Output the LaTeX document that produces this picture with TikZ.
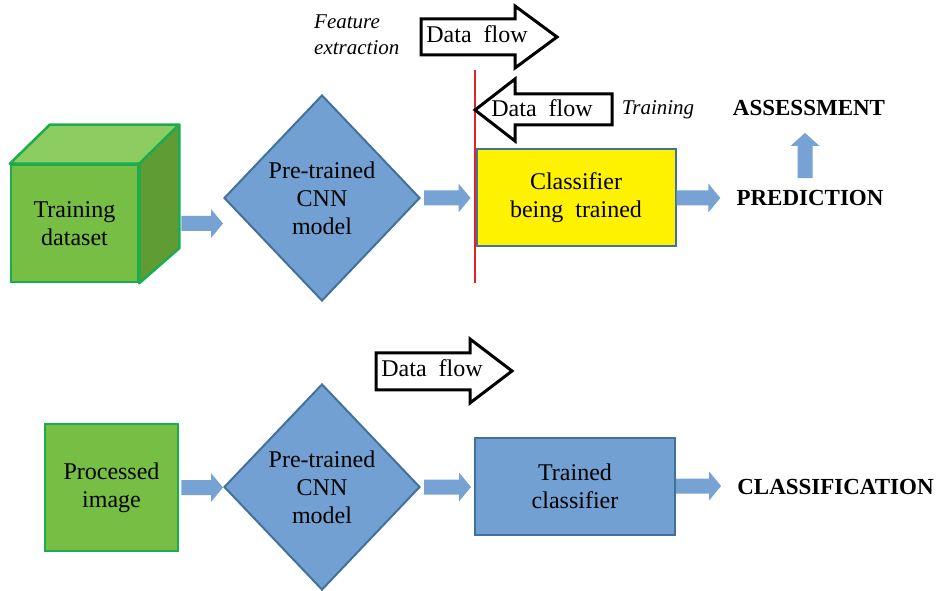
\documentclass[tikz,border=0pt]{standalone}
\usepackage{fontspec}
\setmainfont{Liberation Serif}
\usetikzlibrary{shapes}
\usetikzlibrary{calc}

\definecolor{boxgreen}{RGB}{118,190,68}
\definecolor{cubetop}{RGB}{140,204,96}
\definecolor{cubeside}{RGB}{96,156,52}
\definecolor{greenline}{RGB}{28,172,78}
\definecolor{boxblue}{RGB}{114,160,210}
\definecolor{blueline}{RGB}{65,113,156}
\definecolor{arrowblue}{RGB}{118,162,212}
\definecolor{boxyellow}{RGB}{255,242,0}
\definecolor{splitred}{RGB}{228,32,44}

% fat block arrow from #1 to #2 (horizontal) and from #1 up to #2
\newcommand{\fatarrow}[2]{%
  \fill[fat arrow] let \p1=(#1), \p2=(#2) in
    (\x1,{\y1+7.5pt}) -- ({\x2-12pt},{\y1+7.5pt}) -- ({\x2-12pt},{\y1+14.5pt})
    -- (\x2,\y1) -- ({\x2-12pt},{\y1-14.5pt}) -- ({\x2-12pt},{\y1-7.5pt})
    -- (\x1,{\y1-7.5pt}) -- cycle;}
\newcommand{\fatarrowup}[2]{%
  \fill[fat arrow] let \p1=(#1), \p2=(#2) in
    ({\x1-7.5pt},\y1) -- ({\x1-7.5pt},{\y2-13pt}) -- ({\x1-14.5pt},{\y2-13pt})
    -- (\x1,\y2) -- ({\x1+14.5pt},{\y2-13pt}) -- ({\x1+7.5pt},{\y2-13pt})
    -- ({\x1+7.5pt},\y1) -- cycle;}

\begin{document}
\begin{tikzpicture}[x=1pt,y=1pt,
    box text/.style={font=\fontsize{24}{28}\selectfont,align=center,text=black},
    green box/.style={box text,draw=greenline,fill=boxgreen,line width=2.5pt,inner sep=0pt},
    cube face/.style={draw=greenline,line width=2.5pt,line join=round},
    blue box/.style={box text,draw=blueline,fill=boxblue,line width=2pt,inner sep=0pt,minimum width=199,minimum height=97},
    cnn/.style={box text,diamond,draw=blueline,fill=boxblue,line width=2pt,inner sep=0pt,minimum width=196,minimum height=206},
    outcome/.style={font=\fontsize{23}{27}\selectfont\bfseries,inner sep=0pt},
    note/.style={font=\fontsize{21}{26}\selectfont\itshape,align=left,inner sep=0pt},
    flow box/.style={draw=black,fill=white,line width=3pt,line join=miter},
    fat arrow/.style={fill=arrowblue}]
  \useasboundingbox (0,0) rectangle (938,590);

  % training row
  \node[green box,minimum width=127,minimum height=117] (tds) at (74.5,366.5) {Training\\dataset};
  \filldraw[cube face,fill=cubetop] (tds.north west) -- ($(tds.north west)+(40,39)$)
    -- ($(tds.north east)+(40,39)$) -- (tds.north east) -- cycle;
  \filldraw[cube face,fill=cubeside] (tds.north east) -- ($(tds.north east)+(40,39)$)
    -- ($(tds.south east)+(40,35)$) -- (tds.south east) -- cycle;
  \node[cnn] (cnn1) at (322,392) {Pre-trained\\CNN\\model};
  \node[blue box,fill=boxyellow] (clf) at (576,392) {Classifier\\being\ \ trained};
  \node[outcome] (pred) at (810,392) {PREDICTION};
  \node[outcome] (assess) at (809,482) {ASSESSMENT};

  \fatarrow{$(tds.east)+(42,0)$}{cnn1.west}
  \fatarrow{$(cnn1.east)+(3,0)$}{$(clf.west)+(-5,0)$}
  \fatarrow{clf.east}{$(pred.west)+(-16,0)$}
  \fatarrowup{$(pred.north)+(-5,12)$}{$(assess.south)+(-4,-17)$}

  % feature extraction / training split
  \draw[splitred,line width=2pt] (475,520) -- (475,307);
  \draw[flow box] (421,571) -- (515,571) -- (515,584) -- (557,553) -- (515,522) -- (515,535) -- (421,535) -- cycle;
  \node[box text] (df1) at (477,556) {Data\ \ flow};
  \draw[flow box] (612,496) -- (515,496) -- (515,511) -- (475,480) -- (515,449) -- (515,465) -- (612,465) -- cycle;
  \node[box text] (df2) at (542,482) {Data\ \ flow};
  \node[note,anchor=west] (fex) at (314,555) {Feature\\extraction};
  \node[note] (trn) at (658,480) {Training};

  % classification row
  \node[green box,minimum width=133,minimum height=127] (pim) at (111.5,102.5) {Processed\\image};
  \node[cnn] (cnn2) at (322,103) {Pre-trained\\CNN\\model};
  \node[blue box,minimum width=200] (tcl) at (575,104) {Trained\\classifier};
  \node[outcome] (cls) at (835.5,103) {CLASSIFICATION};

  \fatarrow{$(pim.east)+(2,0)$}{cnn2.west}
  \fatarrow{$(cnn2.east)+(3,0)$}{$(tcl.west)+(-3,0)$}
  \fatarrow{tcl.east}{$(cls.west)+(-16,0)$}

  \draw[flow box] (376,237) -- (470,237) -- (470,251) -- (512,219) -- (470,187) -- (470,200) -- (376,200) -- cycle;
  \node[box text] (df3) at (432,222) {Data\ \ flow};
\end{tikzpicture}
\end{document}
